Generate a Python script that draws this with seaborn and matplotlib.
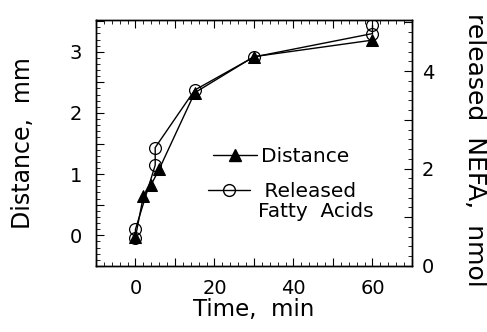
import numpy as np
import pandas as pd
import matplotlib
matplotlib.use("Agg")
import matplotlib.pyplot as plt
import seaborn as sns
from matplotlib.ticker import MultipleLocator, FuncFormatter
from matplotlib.lines import Line2D

# %% — Data
dist_time = [0, 2, 4, 6, 15, 30, 60]
dist_mm = [-0.03, 0.64, 0.83, 1.08, 2.33, 2.92, 3.19]

nefa_time = [0, 0, 5, 5, 15, 30, 60, 60]
nefa_nmol = [0.57, 0.75, 2.07, 2.43, 3.61, 4.29, 4.77, 4.94]

# %% — Style
sns.set_style("ticks")
plt.rcParams["font.family"] = ["DejaVu Sans"]
for k in ("text.color", "axes.labelcolor", "xtick.color", "ytick.color",
          "axes.edgecolor"):
    plt.rcParams[k] = "black"

fig = plt.figure(figsize=(4.87, 3.32), dpi=100)
ax = fig.add_axes([0.197, 0.199, 0.649, 0.741])
ax2 = ax.twinx()

sns.lineplot(x=dist_time, y=dist_mm, ax=ax, estimator=None, sort=False,
             color="black", lw=1.0, marker="^", markersize=8.5,
             markerfacecolor="black", markeredgecolor="black")
sns.lineplot(x=nefa_time, y=nefa_nmol, ax=ax2, estimator=None, sort=False,
             color="black", lw=1.0, marker="o", markersize=8.5,
             markerfacecolor="none", markeredgecolor="black",
             markeredgewidth=0.9)

ax.set_xlim(-10, 70)
ax.set_ylim(-0.5, 3.52)
ax2.set_ylim(0, 5.05)

ax.xaxis.set_major_locator(MultipleLocator(10))
ax.xaxis.set_minor_locator(MultipleLocator(2))
ax.xaxis.set_major_formatter(FuncFormatter(lambda v, p: f"{v:.0f}" if v % 20 == 0 else ""))
ax.yaxis.set_major_locator(MultipleLocator(0.5))
ax.yaxis.set_minor_locator(MultipleLocator(0.1))
ax.yaxis.set_major_formatter(FuncFormatter(lambda v, p: f"{v:.0f}" if abs(v - round(v)) < 1e-6 else ""))
ax2.yaxis.set_major_locator(MultipleLocator(1))
ax2.yaxis.set_minor_locator(MultipleLocator(0.2))
ax2.yaxis.set_major_formatter(FuncFormatter(lambda v, p: f"{v:.0f}" if round(v) % 2 == 0 else ""))

ax.tick_params(axis="x", which="both", direction="in", top=True, bottom=True)
ax.tick_params(axis="y", which="both", direction="in", left=True, right=False)
ax2.tick_params(axis="y", which="both", direction="in", right=True)
for a in (ax, ax2):
    a.tick_params(which="major", length=6, width=0.8, labelsize=14, color="black")
    a.tick_params(which="minor", length=3, width=0.6, color="black")
    for s in a.spines.values():
        s.set_linewidth(1.0)
        s.set_color("black")
        s.set_visible(True)
ax.tick_params(axis="x", pad=9.5)
ax.tick_params(axis="y", pad=10)
ax2.tick_params(axis="y", pad=7)

ax.set_xlabel("Time,  min", fontsize=16.5)
ax.xaxis.set_label_coords(0.5, -0.13)
ax.set_ylabel("Distance,  mm", fontsize=17)
ax.yaxis.set_label_coords(-0.193, 0.5)
ax2.set_ylabel("released  NEFA,  nmol", fontsize=18, rotation=-90,
               rotation_mode="anchor", va="bottom", ha="center")
ax2.yaxis.set_label_coords(1.161, 0.47)

# legend: Distance row, then a two-line Released / Fatty Acids entry
leg1 = ax2.legend(
    [Line2D([], [], color="black", lw=1.0, marker="^", markersize=8.5)],
    ["Distance"], loc="center left", bbox_to_anchor=(0.37, 0.443),
    frameon=False, fontsize=14.5, handlelength=2.2, handletextpad=0.2,
    borderpad=0, borderaxespad=0)
ax2.add_artist(leg1)
ax2.legend(
    [Line2D([], [], color="black", lw=1.0, marker="o", markersize=8.5,
            markerfacecolor="none"),
     Line2D([], [], color="none")],
    [" Released", "Fatty  Acids"], loc="center left",
    bbox_to_anchor=(0.354, 0.26), frameon=False, fontsize=14.5,
    handlelength=2.1, handletextpad=0.4, labelspacing=0.05,
    borderpad=0, borderaxespad=0)

fig.savefig("out.png", dpi=100)
